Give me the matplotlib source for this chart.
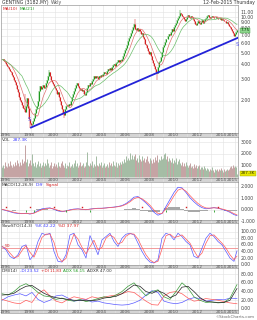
import numpy as np
import pandas as pd
import matplotlib
matplotlib.use("Agg")
import matplotlib.pyplot as plt

# monthly bars, Jul 1995 .. Feb 2015
months = pd.date_range("1995-07-01", periods=236, freq="MS")
closes = [
    4.40, 4.45, 4.30, 4.20, 4.05, 3.90, 3.80, 3.70, 3.55, 3.45, 3.30, 3.15,
    3.00, 2.85, 2.70, 2.50, 2.35, 2.15, 2.05, 1.95, 1.85, 1.75, 1.70, 1.62,
    1.80, 2.10, 1.75, 1.40, 1.30, 1.25, 1.28, 1.35, 1.45, 1.60, 1.70, 1.80,
    2.00, 2.40, 2.65, 2.50, 2.60, 2.70, 2.55, 2.60, 2.80, 3.00, 3.20, 3.45,
    3.20, 3.00, 2.90, 2.75, 2.65, 2.55, 2.45, 2.30, 2.35, 2.15, 2.00, 1.85,
    1.70, 1.60, 1.53, 1.70, 1.80, 1.85, 1.80, 1.90, 1.85, 2.00, 2.15, 2.30,
    2.40, 2.55, 2.70, 2.80, 2.65, 2.55, 2.45, 2.50, 2.40, 2.45, 2.30, 2.25,
    2.35, 2.55, 2.70, 2.65, 2.80, 2.75, 2.95, 3.05, 3.20, 3.10, 3.25, 3.15,
    3.05, 3.20, 3.15, 3.30, 3.25, 3.35, 3.45, 3.40, 3.35, 3.55, 3.70, 3.60,
    3.75, 3.65, 3.85, 3.95, 4.05, 3.90, 4.10, 4.20, 4.35, 4.25, 4.40, 4.30,
    4.50, 4.75, 5.00, 5.30, 5.55, 5.90, 6.30, 6.70, 7.00, 7.40, 7.80, 8.20,
    8.80, 8.00, 7.80, 8.10, 7.70, 7.90, 7.60, 7.20, 7.40, 6.80, 6.50, 6.00,
    5.80, 5.50, 5.20, 4.95, 5.10, 4.70, 4.40, 4.10, 3.90, 3.70, 3.45, 3.40,
    3.80, 4.20, 4.30, 4.60, 5.10, 5.60, 5.90, 6.20, 6.60, 6.50, 6.90, 7.20,
    7.10, 7.50, 7.90, 7.70, 8.20, 8.60, 9.00, 9.40, 9.80, 10.30, 10.90, 10.60,
    10.20, 10.00, 9.60, 9.20, 9.70, 10.10, 10.40, 10.00, 9.80, 10.20, 10.00, 9.70,
    9.30, 8.80, 8.60, 9.00, 9.20, 8.90, 8.70, 9.10, 9.40, 9.00, 9.30, 9.60,
    9.90, 10.20, 10.40, 10.10, 9.80, 10.00, 10.30, 10.10, 9.80, 9.90, 10.10, 9.90,
    9.70, 9.60, 9.80, 9.50, 9.60, 9.40, 9.20, 9.30, 9.00, 9.10, 8.80, 8.50,
    8.30, 8.00, 7.60, 7.30, 7.00, 7.20, 7.50, 7.75,
]
volumes = [
    900, 1100, 800, 1300, 1000, 850, 1200, 950, 1400, 1050, 900, 1150,
    1000, 1300, 1100, 1500, 1200, 950, 1350, 1100, 1600, 1250, 1400, 2800,
    1300, 1550, 1000, 1200, 1450, 1100, 2000, 1250, 1000, 1350, 900, 1150,
    1400, 1000, 1250, 850, 1100, 1300, 950, 1200, 1050, 1600, 1250, 900,
    1100, 1350, 800, 1000, 1250, 950, 1150, 850, 1300, 1000, 900, 1200,
    1400, 1050, 900, 1250, 800, 1100, 950, 1300, 850, 1000, 1150, 900,
    1200, 1450, 1000, 1250, 900, 1100, 1350, 950, 1050, 1200, 850, 1000,
    1300, 2200, 1100, 950, 1250, 1050, 1400, 900, 1150, 1000, 1800, 1100,
    950, 1200, 1050, 1350, 900, 1100, 1250, 850, 1000, 1150, 900, 1300,
    1050, 1250, 950, 1400, 1100, 1000, 1300, 900, 1200, 1050, 1350, 1150,
    1400, 1250, 1600, 1350, 1800, 1500, 1700, 1450, 2100, 1600, 1900, 1550,
    1800, 2000, 1500, 1700, 1350, 1900, 1600, 1400, 1800, 1500, 1650, 1300,
    1550, 1800, 1400, 1250, 1700, 1450, 1200, 1600, 1350, 1750, 1500, 1900,
    1300, 1600, 1450, 1800, 1550, 1700, 2000, 2100, 1600, 1850, 1400, 1700,
    1500, 1350, 1650, 1200, 1450, 1300, 1700, 1150, 1400, 1600, 1250, 1100,
    1350, 1000, 1200, 950, 1300, 1100, 850, 1050, 1250, 900, 1000, 800,
    1150, 900, 1050, 800, 950, 1100, 750, 900, 850, 700, 950, 800,
    650, 800, 700, 550, 750, 600, 850, 650, 500, 700, 600, 750,
    550, 700, 600, 800, 650, 500, 700, 550, 650, 750, 600, 700,
    850, 950, 800, 1050, 900, 1000, 850, 287,
]
# a few long wicks visible on the chart (bar index -> price)
wick_high = {23: 2.30, 47: 3.60, 133: 9.70, 178: 11.40}
wick_low = {28: 1.18, 62: 1.45, 155: 3.00}
# support line drawn on the chart: (year, price)
trend_x = [1997.96, 2015.21]
trend_y = [1.20, 6.72]
price_ticks = [2, 3, 4, 5, 6, 7, 8, 9, 10, 11]
year_labels = [1996, 1998, 2000, 2002, 2004, 2006, 2008, 2010, 2012, 2014]

# indicator readings, every 4th bar (MACD, stochastic) and every 6th bar (DMI)
ind_idx = list(range(0, 233, 4)) + [235]
macd_diff = [
    0.05, -0.05, -0.15, -0.25, -0.30, -0.32, -0.28, -0.35, -0.25, -0.05,
    0.10, 0.15, 0.18, 0.05, -0.08, -0.15, -0.08, 0.02, 0.08, 0.10,
    0.05, 0.02, 0.08, 0.12, 0.15, 0.15, 0.18, 0.22, 0.25, 0.30,
    0.38, 0.55, 0.80, 1.10, 1.15, 0.90, 0.60, 0.25, -0.20, -0.45,
    -0.30, 0.30, 0.90, 1.50, 1.95, 1.90, 1.50, 1.05, 0.70, 0.40,
    0.20, 0.10, 0.15, 0.20, 0.15, 0.05, -0.05, -0.20, -0.40, -0.48,
]
stoch_k = [
    55, 45, 25, 18, 30, 55, 60, 15, 30, 70,
    95, 90, 95, 40, 10, 8, 30, 90, 95, 60,
    45, 20, 88, 60, 30, 75, 85, 95, 70, 55,
    80, 92, 95, 90, 65, 40, 20, 8, 5, 15,
    80, 95, 90, 75, 95, 85, 70, 60, 25, 20,
    50, 80, 95, 85, 70, 60, 40, 20, 10, 42,
]
dmi_idx = list(range(0, 229, 6)) + [235]
dmi_minus = [
    20, 28, 32, 35, 30, 38, 22, 15, 20, 30,
    32, 25, 18, 20, 22, 16, 18, 14, 12, 10,
    9, 10, 14, 20, 32, 42, 38, 18, 14, 12,
    15, 22, 26, 24, 18, 20, 22, 21, 25, 24,
]
dmi_plus = [
    22, 18, 14, 12, 20, 15, 35, 44, 30, 18,
    14, 22, 28, 25, 22, 28, 25, 27, 30, 32,
    35, 40, 38, 28, 18, 10, 9, 30, 38, 40,
    35, 25, 18, 20, 24, 22, 20, 17, 14, 12,
]
dmi_adx = [
    35, 32, 40, 52, 58, 50, 38, 30, 28, 22,
    25, 20, 18, 22, 17, 20, 24, 28, 26, 32,
    40, 52, 60, 45, 30, 40, 44, 28, 22, 40,
    60, 48, 28, 20, 15, 16, 14, 15, 25, 56,
]
dmi_adxr = [
    32, 33, 36, 45, 52, 54, 45, 36, 30, 26,
    24, 22, 20, 20, 19, 19, 21, 25, 27, 29,
    35, 45, 55, 52, 40, 36, 42, 36, 26, 32,
    50, 52, 40, 26, 18, 16, 15, 15, 20, 47,
]

W, H = 257, 320
XL = (1995.46, 2015.21)
GREEN, RED, BLUE = "#1f9a1f", "#d42020", "#3a3aff"
GRID = "#e2e2e2"

c = pd.Series(closes, dtype=float)
xs = np.asarray(months.year + (months.month - 1) / 12 + 1 / 24, dtype=float)
o = c.shift(1).fillna(c.iloc[0])
hi = np.maximum(o, c)
lo = np.minimum(o, c)
for k, v in wick_high.items():
    hi[k] = max(hi[k], v)
for k, v in wick_low.items():
    lo[k] = min(lo[k], v)
up = (c >= o).values
xi = xs[ind_idx]
xd = xs[dmi_idx]

fig = plt.figure(figsize=(W / 100, H / 100), dpi=100)
fig.patch.set_facecolor("white")
renderer = fig.canvas.get_renderer()


def panel(top, bottom):
    ax = fig.add_axes([1 / W, 1 - bottom / H, 237 / W, (bottom - top) / H])
    ax.set_xlim(*XL)
    ax.set_xticks([])
    ax.set_yticks([])
    for s in ax.spines.values():
        s.set_color("#9a9a9a")
        s.set_linewidth(0.5)
    for yr in range(1996, 2016):
        ax.axvline(yr, color=GRID, lw=0.4, zorder=0)
    return ax


def band(top, bottom):
    ax = panel(top, bottom)
    ax.set_facecolor("#d4d4d4")
    ax.set_ylim(0, 1)
    for yr in year_labels:
        ax.text(yr - 0.2, 0.45, str(yr), fontsize=3.2, color="#555555",
                ha="center", va="center")
    ax.text(0.998, 0.45, "2015", transform=ax.transAxes, fontsize=3.2,
            color="#555555", ha="right", va="center")
    return ax


def right_labels(ax, vals, fmt):
    for v in vals:
        ax.axhline(v, color=GRID, lw=0.4, zorder=0)
        ax.text(1.012, v, fmt.format(v), transform=ax.get_yaxis_transform(),
                fontsize=3.3, color="#444444", va="center", ha="left", clip_on=False)


def chain(x, y, parts, size=3.1):
    for s, col in parts:
        t = fig.text(x / W, 1 - y / H, s, fontsize=size, color=col, va="center")
        x = t.get_window_extent(renderer).x1 + 2


# ---- price
ax = panel(5, 133)
ax.set_yscale("log")
ax.set_ylim(1.08, 12.6)
ax.minorticks_off()
ax.set_yticks([])
right_labels(ax, price_ticks, "{:.2f}")
cols = np.where(up, GREEN, RED)
ax.vlines(xs, lo, hi, colors=cols, lw=0.35)
ax.vlines(xs, np.minimum(o, c), np.maximum(o, c), colors=cols, lw=0.8)
ax.plot(xs, c.rolling(10, min_periods=1).mean(), color="#e07070", lw=0.5)
ax.plot(xs, c.rolling(21, min_periods=1).mean(), color="#6cbf6c", lw=0.5)
ax.plot(trend_x, trend_y, color="#2323d8", lw=1.3)
ax.text(xs[27], 1.36, "S", color="#5555ee", fontsize=3.8, ha="center")
ax.text(xs[235], 5.7, "S", color="#5555ee", fontsize=3.8, ha="center")
ax.text(1.012, closes[-1], "%.2f" % closes[-1], transform=ax.get_yaxis_transform(),
        fontsize=3.0, color="#003300", va="center", ha="left", clip_on=False,
        bbox=dict(boxstyle="square,pad=0.1", fc="#8fd68f", ec="#3a9a3a", lw=0.3))
chain(2, 2.5, [("GENTING (3182.MY)", "#333333"), ("Wkly", "#555555")], 3.3)
fig.text(255 / W, 1 - 2.5 / H, "12-Feb-2015 Thursday", fontsize=3.3,
         color="#333333", ha="right", va="center")
chain(3, 8.5, [("MA(10)", RED), ("MA(21)", GREEN)])
band(133, 137)

# ---- volume
ax = panel(137, 178)
ax.set_ylim(-50, 3450)
right_labels(ax, [1000, 2000, 3000], "{:.0f}")
ax.vlines(xs, 0, volumes, colors=np.where(up, "#a3bba3", "#c4a2a2"), lw=0.7)
ax.text(1.012, volumes[-1] + 60, "287.3K", transform=ax.get_yaxis_transform(),
        fontsize=3.0, color="#333300", va="center", ha="left", clip_on=False,
        bbox=dict(boxstyle="square,pad=0.1", fc="#e6e600", ec="#a0a000", lw=0.3))
chain(2, 140, [("VOL", "#333333"), ("287.3K", BLUE)])
band(178, 182)

# ---- MACD
md = pd.Series(macd_diff)
sig = md.ewm(span=2, adjust=False).mean()
hist = md - sig
ax = panel(182, 220)
ax.set_ylim(-0.86, 2.4)
right_labels(ax, [2, 1, 0, -1], "{:.3f}")
ax.fill_between(xi, 0, hist, step="mid", color="#a8a8a8", lw=0)
ax.plot(xi, md, color="#5050ff", lw=0.5)
ax.plot(xi, sig, color="#ff5a5a", lw=0.5)
cross = np.sign(hist).diff().fillna(0).values
ax.plot(xi[cross < 0], np.full((cross < 0).sum(), 0.22), "s", ms=1.0, color=RED, mew=0)
ax.plot(xi[cross > 0], np.full((cross > 0).sum(), -0.12), "|", ms=1.8, color=GREEN, mew=0.6)
chain(2, 185, [("MACD(12,26,9)", "#333333"), ("Diff", BLUE), ("Signal", RED)])
band(220, 223)

# ---- slow stochastic
sk = pd.Series(stoch_k, dtype=float)
sd = sk.rolling(2, min_periods=1).mean()
ax = panel(223, 265)
ax.set_ylim(-1, 126)
right_labels(ax, [100, 80, 60, 40, 20, 0], "{:.2f}")
ax.axhline(50, color="#f08a8a", lw=0.6)
ax.text(1995.75, 53, "50", color=RED, fontsize=3.2)
ax.plot(xi, sk, color="#5a5aff", lw=0.5)
ax.plot(xi, sd, color="#ff5a5a", lw=0.5)
chain(2, 226, [("SlowSTO(14,3)", "#333333"), ("%K 42.22", BLUE), ("%D 37.97", RED)])
band(265, 268)

# ---- DMI
ax = panel(268, 310)
ax.set_ylim(-2.3, 94)
right_labels(ax, [80, 60, 40, 20, 0], "{:.2f}")
ax.plot(xd, dmi_minus, color="#5a5aff", lw=0.5)
ax.plot(xd, dmi_plus, color="#ff5a5a", lw=0.5)
ax.plot(xd, dmi_adx, color="#3a9a3a", lw=0.5)
ax.plot(xd, dmi_adxr, color="#222222", lw=0.5)
chain(2, 271, [("DMI(14)", "#333333"), ("-DI 23.52", BLUE), ("+DI 11.83", RED),
               ("ADX 56.15", GREEN), ("ADXR 47.00", "#333333")], 3.0)
band(310, 313)

fig.text(255 / W, 1 - 317 / H, "\u00a9StockCharts.com", fontsize=3.0,
         color="#666666", ha="right", va="center")

fig.savefig("out.png", dpi=100)
